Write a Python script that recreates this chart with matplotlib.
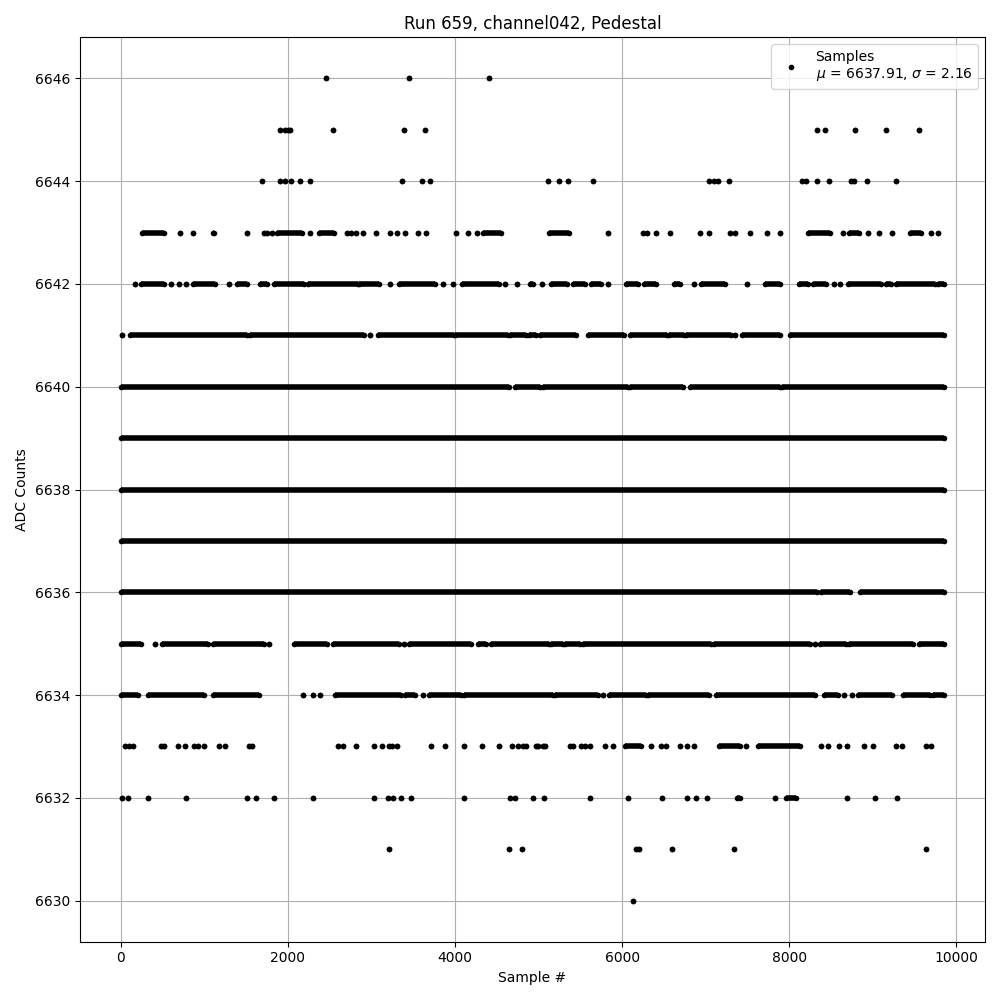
import matplotlib.pyplot as plt
import numpy as np

# Samples at each ADC level.
# A bare number is one sample, a (start, end) pair is a run of consecutive samples.
adc_6646 = [2460, 3450, 4410]
adc_6645 = [1900, 1965, 2000, 2030, 2545, 3395, 3635, 8330, 8425, 8785, 9160, 9555]
adc_6644 = [1685, 1910, 1960, 2035, 2150, 2270, 3360, 3600, 3695, 5110, 5240, 5350, 5650,
            7045, 7105, 7150, 7275, 8150, 8200, 8330, 8475, 8735, 8770, 8930, 9280]
adc_6643 = [(250, 520), 710, 860, (1100, 1120), 1515, 1710, 1755, 1805, (1875, 2165), 2270,
            (2375, 2555), 2705, 2760, 2815, 2895, 3050, 3225, 3300, 3405, 3555, 3655, 4010,
            4160, 4260, (4330, 4545), (5130, 5360), 5830, 6245, 6295, 6400, 6575, 6930, 7045,
            7295, 7345, 7530, 7730, 7890, (8225, 8485), 8640, (8720, 8840), 8945, 9075, 9230,
            (9440, 9580), 9700, 9780]
adc_6642 = [170, (240, 520), 605, 700, 780, (865, 1130), 1295, (1395, 1515), (1665, 1755),
            (1835, 2195), (2235, 2835), (2855, 3095), 3225, (3325, 3765), 3850, 3970,
            (4080, 4530), 4600, 4740, (4900, 4930), 5040, (5150, 5335), (5410, 5550),
            (5630, 5750), 5835, (6050, 6185), (6265, 6405), (6625, 6695), 6855, (6945, 7225),
            7495, (7705, 7890), (8115, 8225), (8285, 8445), 8530, 8605, (8700, 9100),
            (9160, 9220), (9280, 9740), (9780, 9850)]
adc_6641 = [15, (105, 1510), (1550, 2915), 2985, (3075, 3985), (4000, 4635), (4660, 4850),
            (4885, 4965), (5015, 5445), (5595, 6025), (6090, 6540), (6560, 6735),
            (6760, 7300), 7350, (7430, 7895), (8010, 9850)]
adc_6640 = [(0, 4640), (4720, 5015), (5050, 6070), (6090, 6725), (6810, 7890), (7915, 9850)]
adc_6639 = [(0, 9850)]
adc_6638 = [(0, 9850)]
adc_6637 = [(0, 9850)]
adc_6636 = [(0, 8335), (8385, 8730), (8845, 9850)]
adc_6635 = [(0, 245), 410, (490, 1045), (1100, 1715), 1770, (2075, 2465), (2535, 3335), 3395,
            (3455, 4190), (4270, 4365), (4430, 5130), (5150, 5290), (5320, 5490),
            (5530, 7065), (7105, 8245), 8305, (8370, 8675), (8710, 9480), (9555, 9850)]
adc_6634 = [(0, 200), (320, 1000), (1100, 1655), 2185, 2295, 2385, (2565, 3355), (3405, 3525),
            3615, (3685, 4070), (4105, 5170), (5200, 5710), 5770, (5840, 6285), (6305, 7045),
            (7120, 8305), (8410, 8585), 8655, 8750, (8820, 9235), (9360, 9680), (9720, 9850)]
adc_6633 = [50, 100, 145, 480, 520, 680, 770, 880, 920, 990, 1170, 1250, 1530, 1570, 2595,
            2655, 2820, 3025, 3125, 3205, 3245, 3300, 3710, 3885, 4105, 4325, 4525, 4680,
            4750, 4810, 4850, 4970, 4990, 5050, 5080, 5370, 5410, 5510, 5550, 5610, 5790,
            5895, (6030, 6225), 6345, 6465, 6525, 6695, 6775, 6865, (7160, 7405), 7485,
            (7625, 8125), 8385, 8465, 8590, 8690, 8900, 9000, 9275, 9350, 9635, 9700]
adc_6632 = [10, 90, 320, 785, 1515, 1615, 1830, 2295, 3025, 3195, 3255, 3355, 3470, 4105,
            4660, 4720, 4930, 5060, 5615, 6075, 6480, 6775, 6880, 7015, (7375, 7405), 7830,
            (7965, 8075), 8690, 9030, 9290]
adc_6631 = [3205, 4645, 4800, 6160, 6200, 6595, 7335, 9635]
adc_6630 = [6125]

levels = [
    (6646, adc_6646), (6645, adc_6645), (6644, adc_6644), (6643, adc_6643),
    (6642, adc_6642), (6641, adc_6641), (6640, adc_6640), (6639, adc_6639),
    (6638, adc_6638), (6637, adc_6637), (6636, adc_6636), (6635, adc_6635),
    (6634, adc_6634), (6633, adc_6633), (6632, adc_6632), (6631, adc_6631),
    (6630, adc_6630),
]

run_number = 659
channel = "channel042"
mean = 6637.91
sigma = 2.16

fig, ax = plt.subplots(figsize=(10, 10), dpi=100)

label = f"Samples\n$\\mu$ = {mean:.2f}, $\\sigma$ = {sigma:.2f}"
for level, entries in levels:
    runs = [(e, e) if np.isscalar(e) else e for e in entries]
    starts = [r[0] for r in runs]
    ends = [r[1] for r in runs]
    # runs of overlapping dots: a bar as thick as one dot, closed by dots at both ends
    ax.hlines([level] * len(runs), starts, ends, colors='k', linewidth=4, capstyle='butt')
    ax.plot(starts + ends, [level] * (2 * len(runs)), 'k.', label=label)
    label = None

ax.set_title(f"Run {run_number}, {channel}, Pedestal")
ax.set_xlabel("Sample #")
ax.set_ylabel("ADC Counts")
ax.grid(True)
ax.legend(loc='upper right')

plt.tight_layout()
plt.savefig("out.png")
